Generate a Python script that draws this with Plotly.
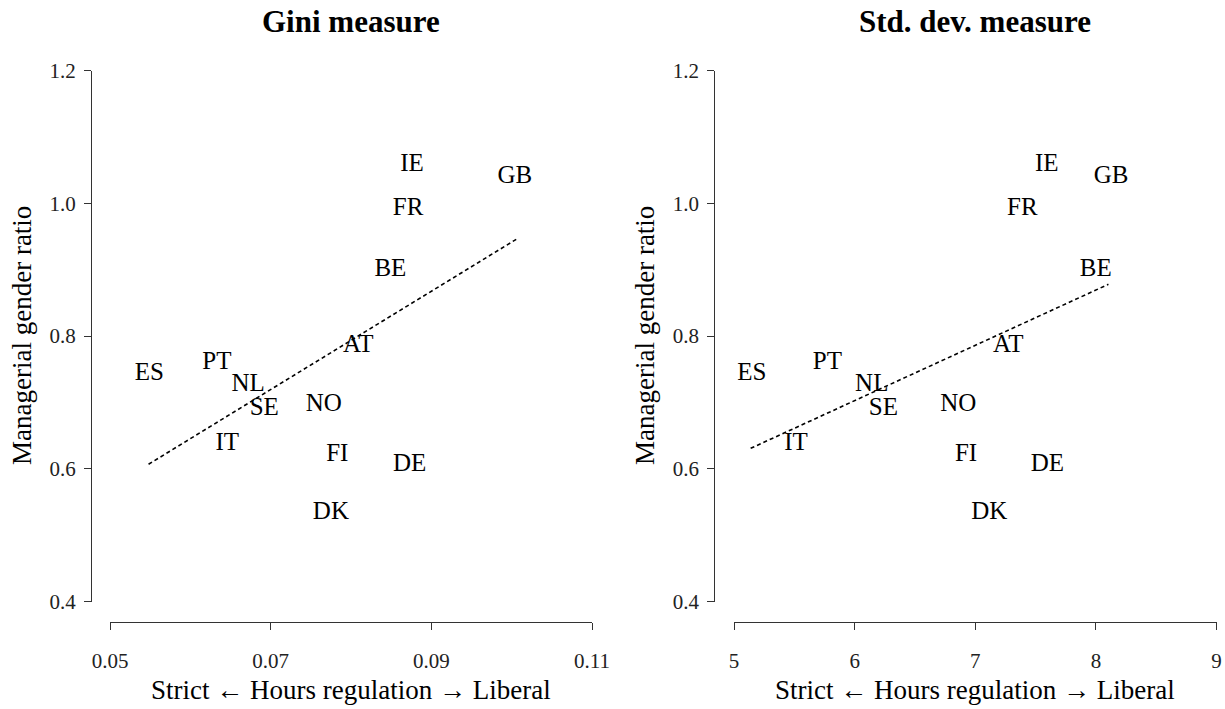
import plotly.graph_objects as go

countries = ["IE", "GB", "FR", "BE", "AT", "PT", "ES", "NL", "SE", "NO", "IT", "FI", "DE", "DK"]
gini = [0.0876, 0.1004, 0.0871, 0.0849, 0.0809, 0.0633, 0.0549, 0.0672, 0.0692, 0.0766, 0.0646, 0.0783, 0.0873, 0.0775]
stddev = [7.593, 8.126, 7.391, 7.999, 7.274, 5.774, 5.147, 6.142, 6.238, 6.860, 5.514, 6.924, 7.598, 7.117]
ratio = [1.058, 1.040, 0.9925, 0.8996, 0.785, 0.760, 0.744, 0.726, 0.691, 0.697, 0.6386, 0.622, 0.607, 0.534]

gini_fit_x = [0.0548, 0.1006]
gini_fit_y = [0.607, 0.946]
sd_fit_x = [5.138, 8.104]
sd_fit_y = [0.631, 0.878]

gini_ticks = [0.05, 0.07, 0.09, 0.11]
gini_ticktext = ["0.05", "0.07", "0.09", "0.11"]
sd_ticks = [5, 6, 7, 8, 9]
y_ticks = [0.4, 0.6, 0.8, 1.0, 1.2]
y_ticktext = ["0.4", "0.6", "0.8", "1.0", "1.2"]

titles = ["Gini measure", "Std. dev. measure"]
xlabel = "Strict \u2190 Hours regulation \u2192 Liberal"
ylabel = "Managerial gender ratio"

FONT = "Liberation Serif"
W, H = 1225, 709
AX = "#333333"

def px(v):
    return v / W

def py(v):
    return 1 - v / H

fig = go.Figure()
fig.add_trace(go.Scatter(x=gini_fit_x, y=gini_fit_y, mode="lines",
                         line=dict(color="black", width=1.6, dash="4px,3px"),
                         xaxis="x", yaxis="y", hoverinfo="skip"))
fig.add_trace(go.Scatter(x=gini, y=ratio, mode="text", text=countries,
                         textposition="middle center",
                         textfont=dict(family=FONT, size=25, color="black"),
                         cliponaxis=False, xaxis="x", yaxis="y"))
fig.add_trace(go.Scatter(x=sd_fit_x, y=sd_fit_y, mode="lines",
                         line=dict(color="black", width=1.6, dash="4px,3px"),
                         xaxis="x2", yaxis="y2", hoverinfo="skip"))
fig.add_trace(go.Scatter(x=stddev, y=ratio, mode="text", text=countries,
                         textposition="middle center",
                         textfont=dict(family=FONT, size=25, color="black"),
                         cliponaxis=False, xaxis="x2", yaxis="y2"))

common_axis = dict(showgrid=False, zeroline=False, showline=True, linecolor=AX, linewidth=1.3,
                   ticks="outside", ticklen=7, tickwidth=1.3, tickcolor=AX, automargin=False,
                   tickfont=dict(family=FONT, size=21, color="#222222"))

ydom = [py(601.7), py(70.5)]
fig.update_layout(
    template="none",
    width=W, height=H,
    margin=dict(l=0, r=0, t=0, b=0, pad=0),
    paper_bgcolor="white", plot_bgcolor="white",
    showlegend=False,
    font=dict(family=FONT, color="black"),
    xaxis=dict(domain=[px(110), px(592)], range=[0.05, 0.11], anchor="free", position=py(622.3),
               tickvals=gini_ticks, ticktext=gini_ticktext, ticklabelstandoff=12, **common_axis),
    yaxis=dict(domain=ydom, range=[0.4, 1.2], anchor="free", position=px(91),
               tickvals=y_ticks, ticktext=y_ticktext, ticklabelstandoff=4, **common_axis),
    xaxis2=dict(domain=[px(734), px(1216.5)], range=[5, 9], anchor="free", position=py(622.3),
                tickvals=sd_ticks, ticklabelstandoff=12, **common_axis),
    yaxis2=dict(domain=ydom, range=[0.4, 1.2], anchor="free", position=px(714.3),
                tickvals=y_ticks, ticktext=y_ticktext, ticklabelstandoff=4, **common_axis),
)

annotations = [
    dict(text="<b>" + titles[0] + "</b>", x=px(351), y=py(22), xref="paper", yref="paper",
         showarrow=False, font=dict(family=FONT, size=31, color="black"), xanchor="center", yanchor="middle"),
    dict(text="<b>" + titles[1] + "</b>", x=px(975), y=py(22), xref="paper", yref="paper",
         showarrow=False, font=dict(family=FONT, size=31, color="black"), xanchor="center", yanchor="middle"),
    dict(text=xlabel, x=px(351), y=py(690), xref="paper", yref="paper",
         showarrow=False, font=dict(family=FONT, size=27, color="black"), xanchor="center", yanchor="middle"),
    dict(text=xlabel, x=px(975), y=py(690), xref="paper", yref="paper",
         showarrow=False, font=dict(family=FONT, size=27, color="black"), xanchor="center", yanchor="middle"),
    dict(text=ylabel, x=px(22), y=py(336), xref="paper", yref="paper", textangle=-90,
         showarrow=False, font=dict(family=FONT, size=27, color="black"), xanchor="center", yanchor="middle"),
    dict(text=ylabel, x=px(645), y=py(336), xref="paper", yref="paper", textangle=-90,
         showarrow=False, font=dict(family=FONT, size=27, color="black"), xanchor="center", yanchor="middle"),
]
fig.update_layout(annotations=annotations)

fig.write_html("out.html")
